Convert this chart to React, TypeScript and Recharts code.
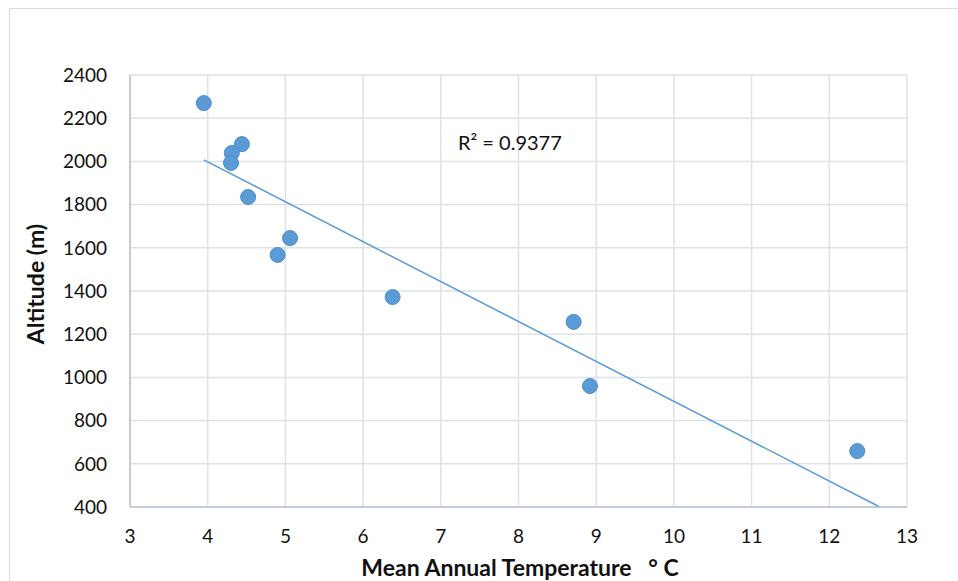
import { ScatterChart, Scatter, XAxis, YAxis, CartesianGrid, ReferenceLine, Label } from "recharts";

// mean annual temperature (°C) vs altitude (m)
const temperature = [3.95, 4.44, 4.31, 4.3, 4.52, 5.06, 4.9, 6.38, 8.71, 8.92, 12.36];
const altitude = [2270, 2080, 2039, 1993, 1835, 1645, 1567, 1372, 1257, 960, 659];

// linear trendline endpoints as drawn
const trendX = [3.95, 12.65];
const trendY = [2007, 400];
const rSquared = "0.9377";

const xTicks = [3, 4, 5, 6, 7, 8, 9, 10, 11, 12, 13];
const yTicks = [400, 600, 800, 1000, 1200, 1400, 1600, 1800, 2000, 2200, 2400];

const points = temperature.map((t, i) => ({ x: t, y: altitude[i] }));
const segment = trendX.map((x, i) => ({ x, y: trendY[i] }));

const FONT = "Lato, 'Open Sans', sans-serif";
const BLUE = "#5b9bd5";
const tick = { fontSize: 19, fill: "#111", fontFamily: FONT };

export default function App() {
  return (
    <div
      style={{
        position: "absolute",
        left: 0,
        top: 0,
        width: 958,
        height: 581,
        background: "#fff",
        overflow: "hidden",
        fontFamily: FONT,
      }}
    >
      <div
        style={{
          position: "absolute",
          left: 9,
          top: 8,
          width: 980,
          height: 600,
          borderLeft: "1px solid #d9d9d9",
          borderTop: "1px solid #d9d9d9",
        }}
      />
      <ScatterChart
        width={958}
        height={581}
        margin={{ top: 75, right: 51, bottom: 0, left: 0 }}
        style={{ position: "absolute", left: 0, top: 0 }}
      >
        <CartesianGrid stroke="#dde1e8" strokeWidth={1.5} />
        <XAxis
          type="number"
          dataKey="x"
          domain={[3, 13]}
          ticks={xTicks}
          height={74}
          tickLine={false}
          tickMargin={17}
          axisLine={{ stroke: "#b8c3d1", strokeWidth: 1.5 }}
          tick={tick}
          allowDataOverflow
        >
          <Label
            content={() => (
              <text
                x={520}
                y={576}
                textAnchor="middle"
                fontFamily={FONT}
                fontWeight={700}
                fontSize={23}
                fill="#111"
              >
                {"Mean Annual Temperature\u00a0\u00a0\u00a0°\u00a0C"}
              </text>
            )}
          />
        </XAxis>
        <YAxis
          type="number"
          dataKey="y"
          domain={[400, 2400]}
          ticks={yTicks}
          width={130}
          tickLine={false}
          tickMargin={17}
          axisLine={{ stroke: "#b8c3d1", strokeWidth: 1.5 }}
          tick={tick}
          allowDataOverflow
        >
          <Label
            content={() => (
              <text
                x={44}
                y={284}
                transform="rotate(-90 44 284)"
                textAnchor="middle"
                fontFamily={FONT}
                fontWeight={700}
                fontSize={23}
                fill="#111"
              >
                Altitude (m)
              </text>
            )}
          />
        </YAxis>
        <ReferenceLine segment={segment} stroke={BLUE} strokeWidth={1.5} ifOverflow="visible" />
        <Scatter
          data={points}
          fill={BLUE}
          isAnimationActive={false}
          shape={(p: any) => (
            <circle cx={p.cx} cy={p.cy} r={7.5} fill={BLUE} stroke="#4d8ccb" strokeWidth={1} />
          )}
        />
      </ScatterChart>
      <div
        style={{
          position: "absolute",
          left: 458,
          top: 130,
          fontSize: 20,
          color: "#111",
          lineHeight: "24px",
          whiteSpace: "pre",
        }}
      >
        R² = {rSquared}
      </div>
    </div>
  );
}
